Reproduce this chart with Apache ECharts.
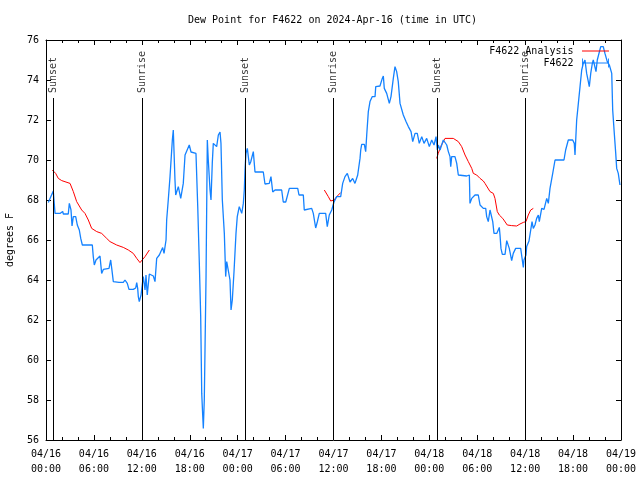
<!DOCTYPE html>
<html>
<head>
<meta charset="utf-8">
<script src="https://cdn.jsdelivr.net/npm/echarts@6/dist/echarts.min.js"></script>
<style>html,body{margin:0;padding:0;background:#fff}#c{width:640px;height:480px}</style>
</head>
<body>
<div id="c"></div>
<script>
// hours since 2024-04-16 00:00 UTC
const obsHours = [0.29,0.91,1.13,1.75,1.88,2.09,2.17,2.79,2.92,3.13,3.26,3.42,3.72,3.92,4.17,4.35,4.55,5.80,5.92,6.05,6.26,6.76,6.97,7.18,7.89,8.10,8.23,8.43,8.64,9.14,9.68,9.89,10.18,10.39,10.93,11.23,11.36,11.48,11.56,11.68,11.90,12.02,12.18,12.40,12.52,12.68,12.94,13.44,13.65,13.86,14.19,14.61,14.78,15.03,15.11,15.31,15.53,15.82,15.94,16.15,16.24,16.57,16.87,17.19,17.41,17.94,18.16,18.78,19.00,19.20,19.37,19.50,19.62,19.70,19.82,19.91,20.04,20.20,20.32,20.54,20.66,20.82,20.95,21.37,21.58,21.79,21.91,22.08,22.33,22.50,22.63,22.83,23.04,23.17,23.33,23.54,23.79,23.95,24.20,24.51,24.71,24.83,24.92,25.04,25.21,25.46,25.63,25.96,26.17,27.21,27.42,27.96,28.17,28.39,28.68,29.51,29.71,30.02,30.47,31.52,31.68,32.22,32.34,32.56,33.27,33.47,33.77,33.97,34.22,35.02,35.22,35.47,35.78,36.06,36.40,36.90,37.15,37.44,37.73,38.07,38.40,38.69,39.03,39.32,39.41,39.53,39.86,40.03,40.16,40.36,40.57,40.86,41.20,41.29,41.82,42.11,42.24,42.36,42.66,42.99,43.20,43.49,43.70,43.91,44.11,44.33,44.54,44.74,45.08,45.37,45.71,45.92,46.21,46.49,46.74,47.05,47.33,47.67,48.00,48.30,48.59,48.84,49.00,49.12,49.34,49.75,49.96,50.18,50.38,50.59,50.68,50.80,51.21,51.43,51.63,51.84,52.68,53.01,53.09,53.31,53.72,54.13,54.35,54.76,55.06,55.18,55.38,55.60,55.81,55.94,56.10,56.44,56.76,56.85,56.97,57.14,57.48,57.69,57.94,58.01,58.19,58.31,58.51,58.81,59.44,59.64,59.77,59.85,60.10,60.19,60.48,60.73,60.86,61.02,61.23,61.44,61.65,61.77,62.07,62.36,62.70,62.90,63.11,63.45,63.74,64.86,65.07,65.40,65.95,66.15,66.24,66.33,66.45,66.66,66.87,67.08,67.28,67.49,67.70,67.91,68.03,68.21,68.41,68.53,68.87,69.03,69.28,69.46,69.78,69.99,70.28,70.54,70.84,70.96,71.13,71.34,71.46,71.66,71.87];
const obsDewF = [67.88,68.45,67.33,67.33,67.43,67.43,67.3,67.3,67.83,67.5,66.7,67.17,67.17,66.75,66.5,66.08,65.75,65.75,65.17,64.75,65.0,65.2,64.33,64.53,64.58,65.0,64.58,63.92,64.0,63.88,63.88,64.0,63.83,63.53,63.53,63.6,63.87,63.58,63.17,62.92,63.25,63.33,64.17,63.5,64.25,63.25,64.3,64.2,63.92,65.08,65.25,65.62,65.33,66.0,67.0,68.0,69.17,71.0,71.5,69.0,68.25,68.67,68.08,68.83,70.25,70.75,70.4,70.33,67.67,64.83,62.17,58.33,57.25,56.58,58.0,60.5,64.17,71.0,70.0,68.5,68.0,69.83,70.83,70.67,71.25,71.4,70.83,68.0,66.33,64.17,64.92,64.83,64.0,62.5,63.0,64.4,66.33,67.17,67.67,67.33,67.83,68.5,69.5,70.33,70.58,69.75,69.9,70.42,69.4,69.4,68.8,68.83,69.17,68.4,68.5,68.5,67.9,67.9,68.58,68.58,68.25,68.25,67.5,67.58,67.58,67.33,66.6,66.9,67.33,67.33,66.67,67.25,67.5,67.9,68.17,68.17,68.83,69.17,69.33,68.9,69.08,68.83,69.25,70.08,70.5,70.78,70.78,70.42,71.25,72.42,72.92,73.17,73.17,73.67,73.7,74.08,74.2,73.58,73.33,72.83,73.17,74.08,74.67,74.42,73.92,72.83,72.75,72.25,71.92,71.67,71.42,70.92,71.33,71.33,70.83,71.17,70.83,71.08,70.67,71.0,70.75,71.17,70.5,70.75,70.5,71.0,71.08,70.75,70.42,70.17,69.67,70.17,70.17,69.83,69.25,69.2,69.2,69.25,67.83,68.08,68.25,68.25,67.75,67.58,67.58,67.17,66.92,67.5,67.5,66.92,66.33,66.33,66.63,66.25,65.58,65.28,65.28,65.97,65.97,65.58,65.5,64.97,65.33,65.58,65.58,65.0,64.63,65.0,65.25,65.67,65.95,65.95,66.92,66.58,66.75,67.08,67.25,66.92,67.58,67.53,68.08,67.83,68.58,69.33,70.0,70.0,70.5,71.0,71.0,70.83,70.25,71.0,72.0,72.83,73.67,74.5,74.83,75.0,74.33,73.92,73.67,74.33,74.83,75.0,74.42,75.0,75.08,75.67,75.67,75.33,74.92,74.75,74.33,72.5,71.5,70.33,69.58,69.33,68.75];

const anaHours1 = [0.79,1.21,1.54,1.97,3.01,3.42,3.84,4.47,4.88,5.30,5.72,6.35,6.97,7.60,8.01,8.85,9.68,10.31,10.93,11.36,11.77,11.98,12.40,12.94];
const anaDewF1  = [69.5,69.33,69.08,68.97,68.83,68.42,67.92,67.5,67.33,67.0,66.58,66.42,66.33,66.08,65.92,65.75,65.63,65.5,65.33,65.08,64.87,64.83,65.17,65.5];
const anaHours2 = [34.85,35.35,35.65,36.06,36.48,36.90];
const anaDewF2  = [68.5,68.17,67.95,68.0,68.2,68.37];
const anaHours3 = [48.92,49.12,49.42,49.96,51.00,51.63,52.05,52.47,52.88,53.31,53.51,53.93,54.35,54.76,54.97,55.60,56.01,56.22,56.51,56.76,57.19,57.76,58.31,58.94,59.35,59.77,60.10,60.39,60.69,61.02];
const anaDewF3  = [70.08,70.33,70.67,71.08,71.08,70.92,70.67,70.25,69.92,69.58,69.33,69.25,69.08,68.95,68.83,68.42,68.33,68.08,67.42,67.25,67.08,66.75,66.72,66.7,66.8,66.88,66.92,67.25,67.5,67.58];

const sunHours  = [0.92, 12.05, 24.95, 35.96, 48.97, 59.98];
const sunLabels = ['Sunset','Sunrise','Sunset','Sunrise','Sunset','Sunrise'];
const sunLineTop = 73.1;

const tickLabels = ['04/16\n00:00','04/16\n06:00','04/16\n12:00','04/16\n18:00','04/17\n00:00','04/17\n06:00','04/17\n12:00','04/17\n18:00','04/18\n00:00','04/18\n06:00','04/18\n12:00','04/18\n18:00','04/19\n00:00'];

const FONT = 'DejaVu Sans Mono';
const zip = (a, b) => a.map((v, i) => [v, b[i]]);

const chart = echarts.init(document.getElementById('c'), null, {renderer: 'canvas'});
const axisCommon = {
  axisLine: {show: true, onZero: false, lineStyle: {color: '#000', width: 1}},
  splitLine: {show: false}
};
const redStyle = {type: 'line', name: 'F4622 Analysis', showSymbol: false, symbol: 'none',
  lineStyle: {color: '#ff0000', width: 1}, itemStyle: {color: '#ff0000'}, silent: true, animation: false, z: 2};

chart.setOption({
  backgroundColor: '#fff',
  animation: false,
  title: {text: 'Dew Point for F4622 on 2024-Apr-16 (time in UTC)', left: 188, top: 15, padding: 0,
    textStyle: {fontFamily: FONT, fontSize: 10, fontWeight: 'normal', color: '#000'}},
  legend: {
    orient: 'vertical', right: 26, top: 41, align: 'right', itemWidth: 30, itemHeight: 9, itemGap: 2,
    textStyle: {fontFamily: FONT, fontSize: 10, color: '#000', padding: [0, 2, 0, 0]},
    data: [
      {name: 'F4622 Analysis', icon: 'path://M0,4.5h30v1h-30z M0,0h0.01v0.01h-0.01z M0,10h0.01v0.01h-0.01z'},
      {name: 'F4622', icon: 'path://M0,0h1v10h-1z M0,4.5h30v1h-30z M29,0h1v10h-1z'}
    ]
  },
  grid: {left: 46, right: 19, top: 40, bottom: 40, containLabel: false, outerBoundsMode: 'none'},
  xAxis: [
    Object.assign({type: 'value', min: 0, max: 72, interval: 6, position: 'bottom',
      axisTick: {show: true, inside: true, length: 5, lineStyle: {color: '#000'}},
      minorTick: {show: true, splitNumber: 3, length: 3, lineStyle: {color: '#000'}},
      axisLabel: {show: true, showMinLabel: true, showMaxLabel: true, fontFamily: FONT, fontSize: 10, color: '#000', lineHeight: 15, margin: 7,
        formatter: v => tickLabels[Math.round(v / 6)]}}, axisCommon),
    Object.assign({type: 'value', min: 0, max: 72, interval: 6, position: 'top',
      axisTick: {show: true, inside: true, length: 5, lineStyle: {color: '#000'}},
      minorTick: {show: true, splitNumber: 3, length: 3, lineStyle: {color: '#000'}},
      axisLabel: {show: false}}, axisCommon)
  ],
  yAxis: [
    Object.assign({type: 'value', min: 56, max: 76, interval: 2, position: 'left',
      name: 'degrees F', nameLocation: 'middle', nameGap: 31, nameRotate: 90,
      nameTextStyle: {fontFamily: FONT, fontSize: 10, color: '#000'},
      axisTick: {show: true, inside: true, length: 5, lineStyle: {color: '#000'}},
      axisLabel: {fontFamily: FONT, fontSize: 10, color: '#000', margin: 7}}, axisCommon),
    Object.assign({type: 'value', min: 56, max: 76, interval: 2, position: 'right',
      axisTick: {show: true, inside: true, length: 5, lineStyle: {color: '#000'}},
      axisLabel: {show: false}}, axisCommon)
  ],
  series: [
    Object.assign({data: zip(anaHours1, anaDewF1)}, redStyle),
    Object.assign({data: zip(anaHours2, anaDewF2)}, redStyle),
    Object.assign({data: zip(anaHours3, anaDewF3)}, redStyle),
    {type: 'line', name: 'F4622', data: zip(obsHours, obsDewF), showSymbol: false, symbol: 'none',
      lineStyle: {color: '#1482ff', width: 1.3}, itemStyle: {color: '#1482ff'}, silent: true, z: 3},
    {type: 'scatter', name: 'sun', data: sunHours.map((h, i) => ({value: [h, sunLineTop], name: sunLabels[i]})),
      symbolSize: 0, silent: true, z: 5,
      label: {show: true, formatter: p => p.name, position: 'top', distance: 5, rotate: 90,
        align: 'left', verticalAlign: 'middle', fontFamily: FONT, fontSize: 10, color: '#000'},
      markLine: {silent: true, symbol: 'none', animation: false,
        lineStyle: {color: '#000', width: 1, type: 'solid'}, label: {show: false},
        data: sunHours.map(h => [{coord: [h, 56]}, {coord: [h, sunLineTop]}])}}
  ]
});
</script>
</body>
</html>
